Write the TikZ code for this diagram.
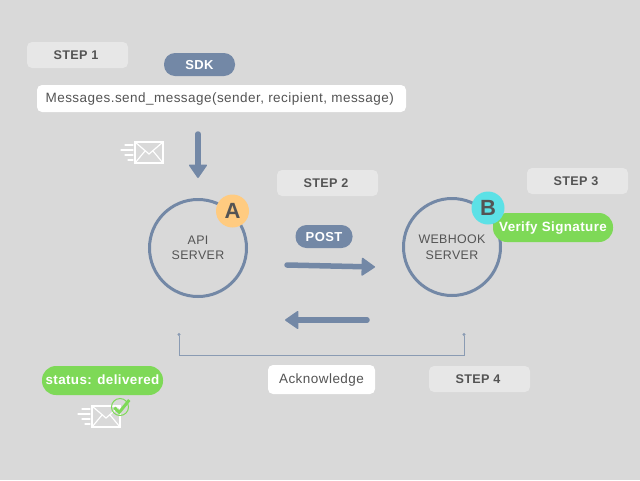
\documentclass[tikz,border=0pt]{standalone}
\usepackage{fontspec}
\setmainfont{Liberation Sans}
\usetikzlibrary{arrows.meta}
\definecolor{bgcol}{HTML}{D9D9D9}
\definecolor{stepcol}{HTML}{E7E7E7}
\definecolor{slatecol}{HTML}{7388A6}
\definecolor{linecol}{HTML}{8A9BB3}
\definecolor{inkcol}{HTML}{545454}
\definecolor{greencol}{HTML}{7ED957}
\definecolor{orangecol}{HTML}{FFCB80}
\definecolor{cyancol}{HTML}{5CE1E6}
\tikzstyle{stepbox}=[
    fill=stepcol, rounded corners=5pt, text=inkcol,
    minimum width=101pt, minimum height=26pt, inner sep=0pt,
    text height=9.5pt, text depth=0pt,
    execute at end node=\hspace*{3pt},
    font=\fontsize{12.6}{15}\selectfont\bfseries\addfontfeature{LetterSpace=3},
]
\tikzstyle{pill}=[
    rounded corners=11pt, text=white,
    inner sep=0pt, minimum height=23pt,
    text height=9.5pt, text depth=0pt,
    font=\fontsize{13}{15}\selectfont\bfseries\addfontfeature{LetterSpace=3},
]
\tikzstyle{greenpill}=[
    pill, fill=greencol, minimum height=29pt, rounded corners=14pt,
    text height=10pt, text depth=3pt,
    font=\fontsize{13.4}{15}\selectfont\bfseries\addfontfeature{LetterSpace=3},
]
\tikzstyle{whitebox}=[
    fill=white, rounded corners=5pt, text=inkcol, inner sep=0pt,
    text height=10pt, text depth=3pt,
    font=\fontsize{13.5}{16}\selectfont\addfontfeature{LetterSpace=3.4},
]
\tikzstyle{server}=[
    circle, draw=slatecol, line width=3pt, minimum size=97pt, inner sep=0pt,
    align=center, text=inkcol,
    font=\fontsize{12.4}{15.5}\selectfont\addfontfeature{LetterSpace=3},
]
\tikzstyle{badge}=[
    circle, minimum size=33pt, inner sep=0pt, text=inkcol,
    font=\fontsize{22}{24}\selectfont\bfseries,
]
\tikzstyle{flow}=[
    draw=slatecol, line width=5.5pt, line cap=round,
    -{Triangle[width=19pt,length=14pt,line width=1.5pt,fill=slatecol,round]},
]
\tikzstyle{bracket}=[draw=linecol, line width=1pt]
\tikzset{
    envelope/.pic={
        \draw[white, line width=1.5pt] (0,0) rectangle (28,21);
        \draw[white, line width=1.2pt] (0,0) -- (14,12) -- (28,0);
        \draw[white, line width=1.2pt] (0,21) -- (10,9) (28,21) -- (18,9);
        \draw[white, line width=1.2pt, line cap=round]
            (-10,3) -- (-2,3) (-14,8) -- (-2,8) (-10,13) -- (-2,13) (-7,18) -- (-2,18);
    },
}
\begin{document}
\begin{tikzpicture}[x=1pt, y=-1pt]
    \useasboundingbox[fill=bgcol] (0,0) rectangle (640,480);
    \node[stepbox] (stepone) at (77.5,55) {STEP 1};
    \node[stepbox] (steptwo) at (327.5,183) {STEP 2};
    \node[stepbox] (stepthree) at (577.5,181) {STEP 3};
    \node[stepbox] (stepfour) at (479.5,379) {STEP 4};
    \node[pill, fill=slatecol, minimum width=71pt] (sdk) at (199.5,64.5) {SDK};
    \node[pill, fill=slatecol, minimum width=57pt] (post) at (324,236.5) {POST};
    \node[whitebox, minimum width=369pt, minimum height=27pt] (message) at (221.5,98.5) {Messages.send\_message(sender, recipient, message)\hspace*{3.5pt}};
    \node[whitebox, minimum width=107pt, minimum height=29pt] (ack) at (321.5,379.5) {Acknowledge};
    \node[server] (api) at (198,248) {API\\SERVER};
    \node[server] (webhook) at (452,247) {WEBHOOK\\SERVER};
    \node[badge, fill=orangecol] (a) at (232.5,211) {A};
    \node[greenpill, minimum width=120pt] (verify) at (553,227.5) {Verify Signature};
    \node[badge, fill=cyancol] (b) at (488,208) {B};
    \node[greenpill, minimum width=121pt] (status) at (102.5,380.5) {status: delivered};
    \coordinate (downstart) at (198,134);
    \coordinate (downend) at (198,178);
    \coordinate (poststart) at (287,265);
    \coordinate (postend) at (375,267);
    \coordinate (ackstart) at (367,320);
    \coordinate (ackend) at (285,320);
    \coordinate (bracketleft) at (179,333);
    \coordinate (bracketright) at (464,333);
    \draw[flow] (downstart) -- (downend);
    \draw[flow] (poststart) -- (postend);
    \draw[flow] (ackstart) -- (ackend);
    \draw[bracket, {Circle[length=3pt]}-{Circle[length=3pt]}] (bracketleft) -- (179,355) -- (464,355) -- (bracketright);
    \pic at (135,142) {envelope};
    \pic at (92,406) {envelope};
    \node[circle, draw=greencol, line width=1pt, minimum size=17pt, inner sep=0pt] (tick) at (120,407) {};
    \draw[greencol, line width=3pt] (114.3,407.7) -- (119.3,412.3) -- (129.3,400);
\end{tikzpicture}
\end{document}
